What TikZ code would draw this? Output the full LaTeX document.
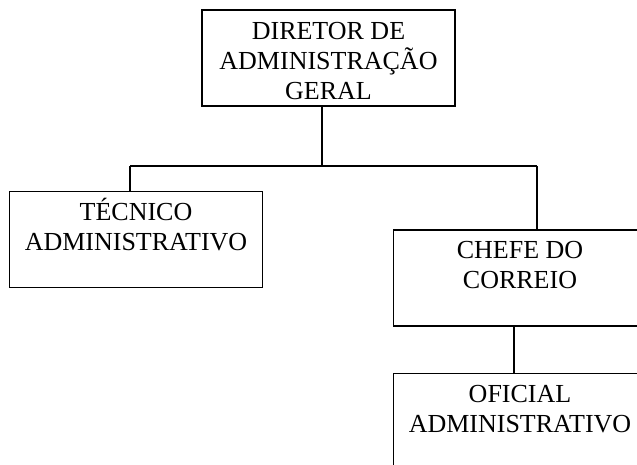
\documentclass[tikz,border=0pt]{standalone}
\usepackage{fontspec}
\setmainfont{Liberation Serif}
\begin{document}
\begin{tikzpicture}[x=1pt,y=-1pt,
  orgbox/.style={draw, line width=1.2pt, inner sep=0pt, minimum width=253pt, minimum height=96pt},
  lbl/.style={anchor=north, inner sep=0pt, align=center, font=\fontsize{26}{30}\selectfont},
  conn/.style={line width=1.2pt}]
\useasboundingbox (0,0) rectangle (637,465);
\clip (0,0) rectangle (637,465);
\node[orgbox] (t) at (328.5,58) {};
\node[orgbox] (l) at (136,239.5) {};
\node[orgbox] (c) at (520,278) {};
\node[orgbox] (o) at (520,421.5) {};
\node[lbl] (tt) at ([yshift=-6.5pt]t.north) {\rule{0pt}{23pt}DIRETOR DE\\ADMINISTRAÇÃO\\GERAL};
\node[lbl] (lt) at ([yshift=-6pt]l.north) {\rule{0pt}{23pt}TÉCNICO\\ADMINISTRATIVO};
\node[lbl] (ct) at ([yshift=-6pt]c.north) {\rule{0pt}{23pt}CHEFE DO\\CORREIO};
\node[lbl] (ot) at ([yshift=-6pt]o.north) {\rule{0pt}{23pt}OFICIAL\\ADMINISTRATIVO};
\coordinate (jm) at (322,166);
\coordinate (jl) at (130,166);
\coordinate (jr) at (537,166);
\coordinate (jc) at (514,300);
\draw[conn] (t.south -| jm) -- (jm);
\draw[conn] (jl) -- (jr);
\draw[conn] (jl) -- (jl |- l.north);
\draw[conn] (jr) -- (jr |- c.north);
\draw[conn] (c.south -| jc) -- (o.north -| jc);
\end{tikzpicture}
\end{document}
